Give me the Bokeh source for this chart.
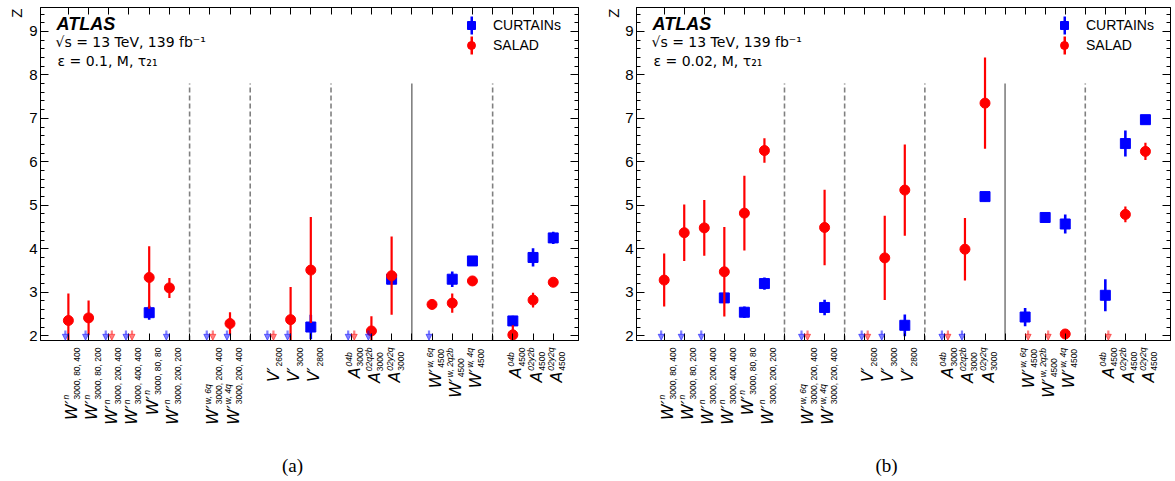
import math
from bokeh.plotting import figure
from bokeh.layouts import row, column
from bokeh.models import (ColumnDataSource, FixedTicker, LinearAxis, Range1d, Label,
                          Legend, LegendItem, Arrow, NormalHead)
from bokeh.core.properties import value
from bokeh.embed import file_html
from bokeh.resources import INLINE

# ---------------- data ----------------
group_sizes = [6, 2, 3, 3, 3, 3]
separator_styles = ["dashed", "dashed", "dashed", "solid", "dashed"]

cat_main = ["W′"] * 6 + ["W′"] * 2 + ["V′"] * 3 + ["A"] * 3 + ["W′"] * 3 + ["A"] * 3
cat_sup = (["n"] * 6 + ["w, 6q", "w, 4q"] + ["", "", ""] + ["04b", "02q2b", "02y2q"]
           + ["w, 6q", "w, 2q2b", "w, 4q"] + ["04b", "02y2b", "02y2q"])
cat_sub = ["3000, 80, 400", "3000, 80, 200", "3000, 200, 400", "3000, 400, 400",
           "3000, 80, 80", "3000, 200, 200", "3000, 200, 400", "3000, 200, 400",
           "2600", "3000", "2800", "3000", "3000", "3000",
           "4500", "4500", "4500", "4500", "4500", "4500"]

# (a) epsilon = 0.1  (None = below axis, shown as arrow)
curtains_a = [None, None, None, None, 2.53, None, None, None, None, None, 2.20,
              None, None, 3.30, None, 3.30, 3.72, 2.34, 3.80, 4.25]
curtains_a_err = [0, 0, 0, 0, 0.16, 0, 0, 0, 0, 0, 0.28,
                  0, 0, 0.10, 0, 0.18, 0.07, 0.12, 0.21, 0.14]
salad_a = [2.35, 2.41, None, None, 3.34, 3.10, None, 2.28, None, 2.37, 3.51,
           None, 2.11, 3.38, 2.72, 2.75, 3.26, 2.02, 2.82, 3.23]
salad_a_err = [0.62, 0.40, 0, 0, 0.72, 0.23, 0, 0.26, 0, 0.75, 1.22,
               0, 0.34, 0.90, 0.11, 0.22, 0.05, 0.22, 0.17, 0.05]

# (b) epsilon = 0.02
curtains_b = [None, None, None, 2.87, 2.54, 3.20, None, 2.65, None, None, 2.24,
              None, None, 5.20, 2.43, 4.72, 4.57, 2.93, 6.42, 6.97]
curtains_b_err = [0, 0, 0, 0.12, 0.13, 0.14, 0, 0.18, 0, 0, 0.25,
                  0, 0, 0.11, 0.21, 0.07, 0.22, 0.37, 0.30, 0.08]
salad_b = [3.28, 4.37, 4.48, 3.47, 4.82, 6.26, None, 4.49, None, 3.79, 5.35,
           None, 3.99, 7.35, None, None, 2.04, None, 4.79, 6.24]
salad_b_err = [0.61, 0.65, 0.64, 1.03, 0.86, 0.28, 0, 0.87, 0, 0.97, 1.05,
               0, 0.72, 1.05, 0, 0, 0.04, 0, 0.18, 0.20]

y_ticks = [2, 3, 4, 5, 6, 7, 8, 9]

# ---------------- helpers ----------------
X_LO, X_HI = -1.38, 25.25
Y_LO, Y_HI = 1.89, 9.55
BLUE, RED = "#0000ff", "#ff0000"
MAIN_H = 346
LAB_H = 135
FRAME_H = MAIN_H - 13

LIB = {' ': 278, ',': 278, 'n': 556, 'w': 722, 'q': 556, 'b': 556, 'y': 500}


def text_w(s, size):
    return sum(LIB.get(c, 556) for c in s) / 1000.0 * size


def slot_positions():
    xs, seps = [], []
    s = 0
    for gi, n in enumerate(group_sizes):
        for _ in range(n):
            xs.append(s)
            s += 1
        if gi < len(separator_styles):
            seps.append(s)
            s += 1
    return xs, seps


def blank_axis(ax):
    ax.major_label_text_color = None
    ax.major_label_text_font_size = "0px"
    ax.major_label_standoff = 0
    ax.major_tick_out = 0
    ax.minor_tick_out = 0
    ax.axis_line_color = "black"


def panel(eps_text, cur, cur_err, sal, sal_err, zw, zx, width, bl, br, caption):
    xr = Range1d(X_LO, X_HI)
    p = figure(width=width, height=MAIN_H, x_range=xr,
               y_range=Range1d(Y_LO, Y_HI), output_backend="svg", toolbar_location=None,
               min_border_left=bl, min_border_right=br, min_border_top=7,
               min_border_bottom=6)
    p.grid.visible = False
    p.outline_line_color = "black"
    p.outline_line_width = 1
    frame_w = width - bl - br

    xs, seps = slot_positions()
    all_ticks = list(range(len(xs) + len(seps)))
    minor_y = [round(1.8 + 0.2 * i, 1) for i in range(40)]

    # bottom / top x axes
    xa = p.xaxis[0]
    xa.ticker = FixedTicker(ticks=all_ticks, minor_ticks=[])
    blank_axis(xa)
    xa.major_tick_in = 7
    xa.minor_tick_in = 0
    top = LinearAxis(ticker=FixedTicker(ticks=all_ticks, minor_ticks=[]))
    blank_axis(top)
    top.major_tick_in = 7
    top.minor_tick_in = 0
    p.add_layout(top, "above")

    # y axes
    ya = p.yaxis[0]
    ya.ticker = FixedTicker(ticks=y_ticks, minor_ticks=minor_y)
    ya.major_tick_in = 8
    ya.major_tick_out = 0
    ya.minor_tick_in = 4
    ya.minor_tick_out = 0
    ya.major_label_text_font = "Liberation Sans"
    ya.major_label_text_font_size = "15px"
    ya.major_label_text_color = "black"
    ya.major_label_standoff = 3
    ya.axis_line_color = "black"
    right = LinearAxis(ticker=FixedTicker(ticks=y_ticks, minor_ticks=minor_y))
    blank_axis(right)
    right.major_tick_in = 8
    right.minor_tick_in = 4
    p.add_layout(right, "right")

    # separators
    for sx, style in zip(seps, separator_styles):
        if style == "dashed":
            p.segment(x0=[sx], y0=[Y_LO], x1=[sx], y1=[7.8], line_color="#808080",
                      line_width=1.6, line_dash="5 3")
        else:
            p.segment(x0=[sx], y0=[Y_LO], x1=[sx], y1=[7.8], line_color="#808080",
                      line_width=1.6)

    # upper-limit arrows
    def arrows(vals, dx, color):
        lx = [xs[i] + dx for i, v in enumerate(vals) if v is None]
        src = ColumnDataSource(dict(x=lx, y0=[2.12] * len(lx), y1=[Y_LO + 0.005] * len(lx)))
        p.add_layout(Arrow(end=NormalHead(size=6, fill_color=color, fill_alpha=0.5,
                                          line_color=color, line_alpha=0.5, line_width=1),
                           source=src, x_start="x", y_start="y0", x_end="x", y_end="y1",
                           line_color=color, line_alpha=0.5, line_width=2.2))

    arrows(cur, -0.15, BLUE)
    arrows(sal, 0.15, RED)

    def series(vals, errs, color, marker, lw, size):
        idx = [i for i, v in enumerate(vals) if v is not None]
        src = ColumnDataSource(dict(
            x=[xs[i] for i in idx],
            y=[vals[i] for i in idx],
            lo=[vals[i] - errs[i] for i in idx],
            hi=[vals[i] + errs[i] for i in idx]))
        p.segment(x0="x", y0="lo", x1="x", y1="hi", source=src, line_color=color,
                  line_width=lw)
        return p.scatter(x="x", y="y", source=src, marker=marker, size=size,
                         fill_color=color, line_color=color)

    r_cur = series(cur, cur_err, BLUE, "square", 2.6, 10)
    r_sal = series(sal, sal_err, RED, "circle", 2.2, 10)

    leg_y = FRAME_H - 48
    leg_x = frame_w - 119
    legend = Legend(items=[LegendItem(label="CURTAINs", renderers=[r_cur]),
                           LegendItem(label="SALAD", renderers=[r_sal])],
                    location=(leg_x, leg_y), border_line_color=None,
                    background_fill_alpha=0, label_text_font="Liberation Sans",
                    label_text_font_size="14px", label_text_color="black",
                    glyph_width=20, glyph_height=20,
                    spacing=0, padding=4, margin=0, label_standoff=12)
    p.add_layout(legend)
    # vertical error bars in the legend: thick, very short horizontal legend lines
    bar_cur = p.segment(x0=[X_LO - 50], y0=[Y_LO - 50], x1=[X_LO - 49], y1=[Y_LO - 50],
                        line_color=BLUE, line_width=18, line_cap="butt")
    bar_sal = p.segment(x0=[X_LO - 50], y0=[Y_LO - 50], x1=[X_LO - 49], y1=[Y_LO - 50],
                        line_color=RED, line_width=18, line_cap="butt")
    legend_bars = Legend(items=[LegendItem(label=" ", renderers=[bar_cur]),
                                LegendItem(label=" ", renderers=[bar_sal])],
                         location=(leg_x + 8.5, leg_y),
                         border_line_color=None, background_fill_alpha=0,
                         label_text_font_size="14px", glyph_width=3, glyph_height=20,
                         spacing=0, padding=4, margin=0, label_standoff=0)
    p.add_layout(legend_bars)

    # top-left texts
    p.add_layout(Label(x=16, y=FRAME_H - 16, x_units="screen", y_units="screen",
                       text="ATLAS", text_font="Liberation Sans",
                       text_font_style="bold italic", text_font_size="18px",
                       text_baseline="alphabetic", text_color="black"))
    p.add_layout(Label(x=15, y=FRAME_H - 34, x_units="screen", y_units="screen",
                       text="√s = 13 TeV, 139 fb⁻¹", text_font="DejaVu Sans",
                       text_font_size="14px", text_baseline="alphabetic",
                       text_color="black"))
    p.add_layout(Label(x=17, y=FRAME_H - 53, x_units="screen", y_units="screen",
                       text=eps_text, text_font="DejaVu Sans",
                       text_font_size="14px", text_baseline="alphabetic",
                       text_color="black"))

    # ---- label strip below the panel (shares the x range) ----
    q = figure(width=width, height=LAB_H, x_range=xr, y_range=Range1d(-LAB_H, 0),
               x_axis_type=None, y_axis_type=None, output_backend="svg",
               toolbar_location=None, min_border_left=bl, min_border_right=br,
               min_border_top=0, min_border_bottom=0)
    q.outline_line_color = None
    q.grid.visible = False
    SUBSZ = 8.5
    top_y = -1
    ystart = [top_y - max(text_w(a, SUBSZ), text_w(b, SUBSZ)) for a, b in zip(cat_sub, cat_sup)]
    src = ColumnDataSource(dict(x=xs, ys=ystart, ym=[v - 1 for v in ystart],
                                main=cat_main, sup=cat_sup, sub=cat_sub))
    common = dict(x="x", source=src, angle=math.pi / 2, text_baseline="alphabetic",
                  text_color="black")
    q.text(y="ym", text="main", text_align="right", x_offset=3,
           text_font=value("DejaVu Sans"), text_font_style="italic",
           text_font_size="16px", **common)
    q.text(y="ys", text="sup", text_align="left", x_offset=-2,
           text_font=value("Liberation Sans"), text_font_style="italic",
           text_font_size="%gpx" % SUBSZ, **common)
    q.text(y="ys", text="sub", text_align="left", x_offset=9,
           text_font=value("Liberation Sans"), text_font_size="%gpx" % SUBSZ, **common)
    q.text(x=[(X_LO + X_HI) / 2], y=[-119], text=[caption], x_offset=-17,
           text_align="center", text_baseline="middle",
           text_font=value("Liberation Serif"), text_font_size="19px", text_color="black")

    # ---- narrow strip on the left holding the axis title Z ----
    z = figure(width=zw, height=MAIN_H + LAB_H, x_range=Range1d(0, zw),
               y_range=Range1d(-(MAIN_H + LAB_H), 0), x_axis_type=None, y_axis_type=None,
               output_backend="svg", toolbar_location=None, min_border_left=0,
               min_border_right=0, min_border_top=0, min_border_bottom=0)
    z.outline_line_color = None
    z.grid.visible = False
    z.text(x=[zx], y=[-8], text=["Z"], angle=math.pi / 2, text_align="right",
           text_baseline="middle", text_font=value("Liberation Sans"),
           text_font_size="15px", text_color="black")

    return row(z, column(p, q, spacing=0), spacing=0)


pa = panel("ε = 0.1, M, τ₂₁", curtains_a, curtains_a_err, salad_a, salad_a_err,
           26, 16, 560, 12, 8, "(a)")
pb = panel("ε = 0.02, M, τ₂₁", curtains_b, curtains_b_err, salad_b, salad_b_err,
           36, 27, 553, 11, 5, "(b)")

layout = row(pa, pb, spacing=0)
open("out.html", "w").write(file_html(layout, INLINE))
